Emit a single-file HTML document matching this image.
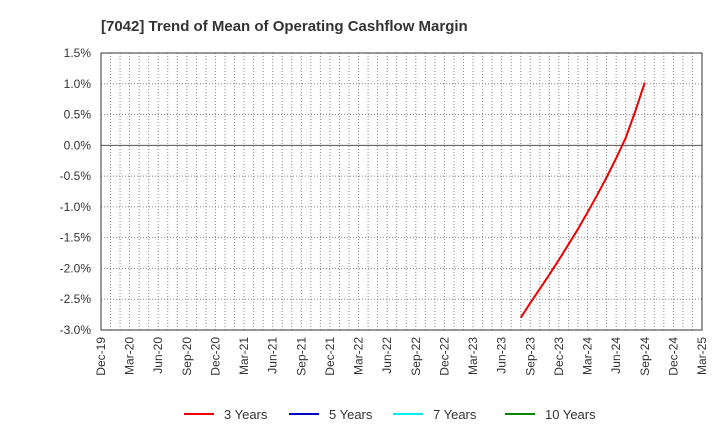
<!DOCTYPE html>
<html><head><meta charset="utf-8"><style>
body{margin:0;background:#fff;font-family:"Liberation Sans",Arial,sans-serif}
svg text{font-family:"Liberation Sans",Arial,sans-serif}
</style></head><body>
<svg id="c" width="720" height="440" xmlns="http://www.w3.org/2000/svg">
<text x="101" y="31" font-size="15" font-weight="bold" fill="#333">[7042]  Trend of Mean of Operating Cashflow Margin</text>
<g id="grid"></g><g id="axes"></g><g id="series"></g><g id="legend"></g>
</svg>
<script>
const yTicks=[1.5,1.0,0.5,0.0,-0.5,-1.0,-1.5,-2.0,-2.5,-3.0];
const xLabels=["Dec-19","Mar-20","Jun-20","Sep-20","Dec-20","Mar-21","Jun-21","Sep-21","Dec-21","Mar-22","Jun-22","Sep-22","Dec-22","Mar-23","Jun-23","Sep-23","Dec-23","Mar-24","Jun-24","Sep-24","Dec-24","Mar-25"];
const months3y=[44,45,46,47,48,49,50,51,52,53,54,55,56,57];
const values3y=[-2.80,-2.56,-2.33,-2.10,-1.86,-1.61,-1.36,-1.09,-0.81,-0.52,-0.21,0.12,0.55,1.02];
const legendNames=["3 Years","5 Years","7 Years","10 Years"];
const legendColors=["#e00","#00c","#0ee","#080"];
const L=101,R=702,T=53,B=330,NM=63;
const x=m=>L+(R-L)*m/NM;
const y=v=>T+(1.5-v)/4.5*(B-T);
const NS="http://www.w3.org/2000/svg";
function mk(p,t,a){const e=document.createElementNS(NS,t);for(const k in a)e.setAttribute(k,a[k]);p.appendChild(e);return e;}
const g=document.getElementById('grid'),ax=document.getElementById('axes'),se=document.getElementById('series'),lg=document.getElementById('legend');
for(let m=1;m<NM;m++){const l=mk(g,'line',{x1:x(m),x2:x(m),y1:T,y2:B,stroke:'#888','stroke-dasharray':'1,2','stroke-width':1});

}
yTicks.forEach(v=>{
if(v!==1.5&&v!==-3){const l=mk(g,'line',{x1:L,x2:R,y1:y(v),y2:y(v),stroke:v===0?'#555':'#888','stroke-dasharray':v===0?'':'1,2','stroke-width':1});

}
const t=mk(ax,'text',{x:91,y:y(v)+4,'font-size':12,'text-anchor':'end',fill:'#333'});t.textContent=v.toFixed(1)+'%';


});
const fr=mk(ax,'rect',{x:L,y:T,width:R-L,height:B-T,fill:'none',stroke:'#333','stroke-width':1});


xLabels.forEach((s,i)=>{const xx=x(i*3);const t=mk(ax,'text',{x:0,y:0,'font-size':12,'text-anchor':'end',fill:'#333',transform:`translate(${xx+4},337) rotate(-90)`});t.textContent=s;

});
const pl=mk(se,'polyline',{points:months3y.map((m,i)=>x(m)+','+y(values3y[i])).join(' '),fill:'none',stroke:'#e00','stroke-width':2,'stroke-linejoin':'round'});


const lx=[184,289,393,505];
legendNames.forEach((n,i)=>{const gg=mk(lg,'g',{});


mk(gg,'line',{x1:lx[i],x2:lx[i]+30,y1:414,y2:414,stroke:legendColors[i],'stroke-width':2});
const t=mk(gg,'text',{x:lx[i]+40,y:419,'font-size':13,fill:'#333'});t.textContent=n;});
</script>
</body></html>
